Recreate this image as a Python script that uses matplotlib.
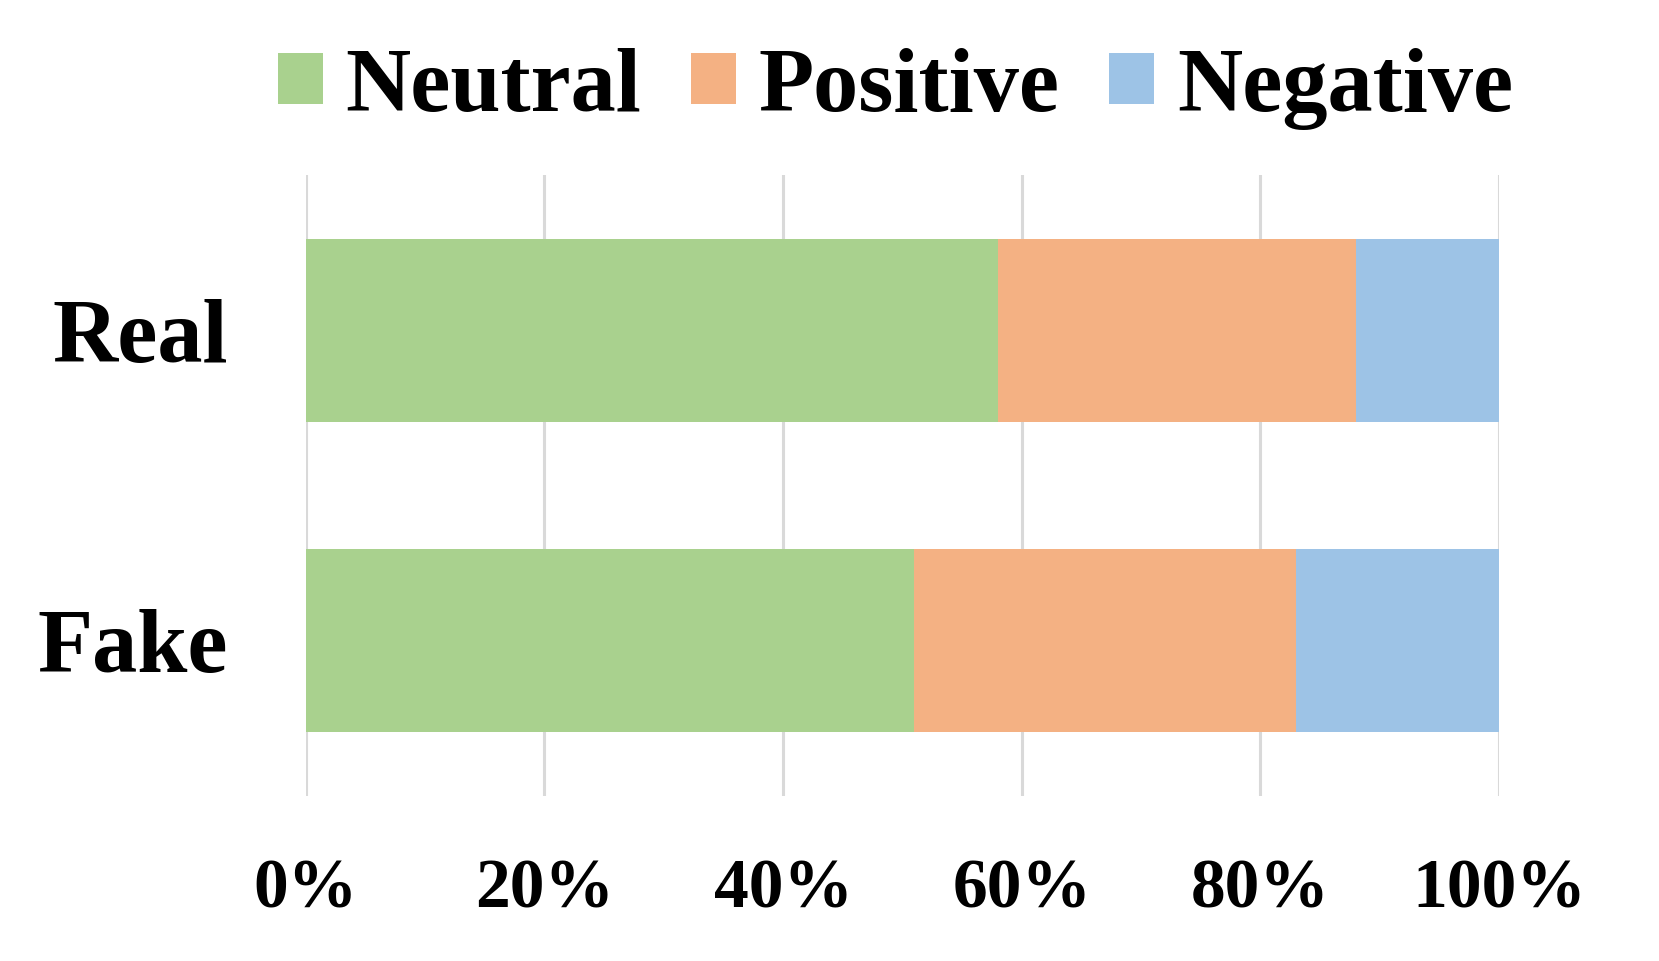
import matplotlib.pyplot as plt

plt.rcParams['font.family'] = ['Liberation Serif', 'DejaVu Serif']
plt.rcParams['font.weight'] = 'bold'

# categories (bottom to top)
groups = ['Fake', 'Real']
# share of each sentiment (%)
neutral = [51, 58]
positive = [32, 30]
negative = [17, 12]

series_names = ['Neutral', 'Positive', 'Negative']
colors = ['#A9D18E', '#F4B183', '#9DC3E6']

fig = plt.figure(figsize=(16.59, 9.61), dpi=100)
ax = fig.add_axes([0.1843, 0.172, 0.7193, 0.646])

left = [0, 0]
for name, vals, c in zip(series_names, [neutral, positive, negative], colors):
    ax.barh(groups, vals, left=left, height=0.59, color=c, label=name)
    left = [l + v for l, v in zip(left, vals)]

ax.set_xlim(0, 100)
ax.set_ylim(-0.5, 1.5)
ax.set_xticks(range(0, 101, 20))
ax.set_xticklabels([f'{t}%' for t in range(0, 101, 20)])
ax.grid(axis='x', color='#d9d9d9', linewidth=2.2)
ax.set_axisbelow(True)
for s in ax.spines.values():
    s.set_visible(False)
ax.tick_params(axis='x', length=0, pad=45, labelsize=50)
ax.tick_params(axis='y', length=0, pad=56, labelsize=65)

ax.legend(loc='center', bbox_to_anchor=(0.494, 1.139), ncol=3, frameon=False,
          fontsize=65, handlelength=0.5, handleheight=0.5, handletextpad=0.25,
          columnspacing=0.55, borderaxespad=0)

fig.savefig('out.png', dpi=100)
